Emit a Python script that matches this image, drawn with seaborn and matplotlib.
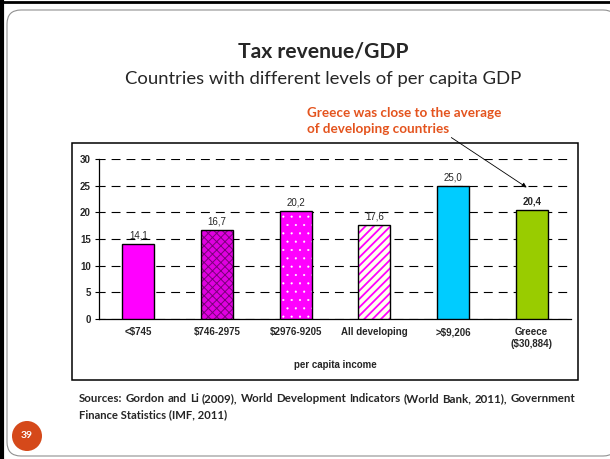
import matplotlib
matplotlib.use("Agg")
import matplotlib.pyplot as plt
import seaborn as sns
import pandas as pd
from matplotlib.patches import Rectangle, FancyBboxPatch, Circle
from matplotlib.ticker import FixedLocator

# datos del grafico
categorias = ["<$745", "$746-2975", "$2976-9205", "All developing", ">$9,206", "Greece\n($30,884)"]
valores = [14.1, 16.7, 20.2, 17.6, 25.0, 20.4]
etiquetas = ["14,1", "16,7", "20,2", "17,6", "25,0", "20,4"]
colores = ["#FF00FF", "#E000E0", "#FF00FF", "#FFFFF0", "#00CCFF", "#99CC00"]
tramas = [None, "xxxx", "..", "////", None, None]
color_trama = [None, "#7A007A", "#FFFFFF", "#FF00FF", None, None]
ancho_trama = [1.0, 0.7, 0.3, 1.3, 1.0, 1.0]

fuente_1 = "Sources: Gordon and Li (2009), World Development Indicators (World Bank, 2011), Government"
fuente_2 = "Finance Statistics (IMF, 2011)"

sns.set_style("white")
plt.rcParams["font.family"] = ["Liberation Sans", "DejaVu Sans"]
calibri = ["Lato", "DejaVu Sans"]

df = pd.DataFrame({"cat": categorias, "val": valores})

fig = plt.figure(figsize=(6.1, 4.59), dpi=100)

# fondo de la diapositiva en pixeles
bg = fig.add_axes([0, 0, 1, 1])
bg.set_xlim(0, 610)
bg.set_ylim(459, 0)
bg.axis("off")
bg.add_patch(FancyBboxPatch((7, 10), 610, 446, boxstyle="round,pad=0,rounding_size=14",
                            fc="white", ec="#909090", lw=0.8))
bg.plot([1.5, 1.5], [0, 459], color="black", lw=3)
bg.plot([0, 610], [1.5, 1.5], color="black", lw=2)
bg.add_patch(Rectangle((72, 143), 506, 237, fill=False, ec="black", lw=1.1))

bg.text(323, 52, "Tax revenue/GDP", ha="center", va="center", fontsize=15.2,
        fontweight="bold", family=calibri)
bg.text(323, 79, "Countries with different levels of per capita GDP", ha="center", va="center",
        fontsize=13.3, family=calibri)
bg.text(307, 121, "Greece was close to the average\nof developing countries", ha="left", va="center",
        fontsize=9.7, fontweight="bold", color="#E4541E", linespacing=1.35, family=calibri)

# primera linea justificada entre x=79 y x=575
fig.canvas.draw()
rend = fig.canvas.get_renderer()
palabras = fuente_1.split(" ")
objs = [bg.text(0, 399, w, ha="left", va="center", fontsize=8.3, fontweight="bold", family=calibri)
        for w in palabras]
anchos = [o.get_window_extent(rend).width for o in objs]
hueco = (575 - 79 - sum(anchos)) / (len(palabras) - 1)
x = 79
for o, a in zip(objs, anchos):
    o.set_x(x)
    x += a + hueco
bg.text(79, 415, fuente_2, ha="left", va="center", fontsize=8.1, fontweight="bold", family=calibri)

bg.add_patch(Circle((27, 436), 15, fc="#D5491A", ec="none"))
bg.text(27, 436, "39", ha="center", va="center", color="white", fontsize=7.5,
        fontweight="bold", family=calibri)

# grafico de barras
ax = fig.add_axes([99 / 610, (459 - 319) / 459, 472 / 610, 160 / 459])
sns.barplot(data=df, x="cat", y="val", hue="cat", palette=colores, legend=False,
            width=0.41, ax=ax, zorder=3, saturation=1)

for i, p in enumerate(ax.patches):
    if tramas[i]:
        p.set_hatch(tramas[i])
        p.set_edgecolor(color_trama[i])
        if hasattr(p, "set_hatch_linewidth"):
            p.set_hatch_linewidth(ancho_trama[i])
    p.set_linewidth(0)
    ax.add_patch(Rectangle(p.get_xy(), p.get_width(), p.get_height(), fill=False,
                           ec="black", lw=1.0, zorder=4))
    ax.annotate(etiquetas[i], (p.get_x() + p.get_width() / 2, p.get_height()),
                xytext=(0, 2.5), textcoords="offset points", ha="center", va="bottom",
                fontsize=7, fontweight="bold" if i == 5 else "normal", zorder=5)

ax.set_xlim(-0.5, 5.5)
ax.set_ylim(0, 30)
ax.set_yticks(range(0, 31, 5))
ax.yaxis.grid(True, color="black", linestyle=(2.5, (8, 5.4)), lw=0.8)
ax.set_axisbelow(True)
for s in ["top", "right"]:
    ax.spines[s].set_visible(False)
for s in ["left", "bottom"]:
    ax.spines[s].set_color("black")
    ax.spines[s].set_linewidth(0.9)

ax.xaxis.set_minor_locator(FixedLocator([k - 0.5 for k in range(7)]))
ax.tick_params(axis="x", which="major", length=0, pad=6)
ax.tick_params(axis="x", which="minor", length=3, direction="out", color="black", width=0.8)
ax.tick_params(axis="y", length=3, direction="out", color="black", width=0.8, pad=3, left=True)
ax.tick_params(labelsize=7)
for t in ax.get_xticklabels() + ax.get_yticklabels():
    t.set_fontweight("bold")
ax.set_xlabel("per capita income", fontsize=7, fontweight="bold", labelpad=8)
ax.set_ylabel("")

# flecha hacia Grecia (dibujada con el grafico para quedar encima)
ax.annotate("", xy=(529, 189), xytext=(449, 136), xycoords=bg.transData,
            textcoords=bg.transData, annotation_clip=False,
            arrowprops=dict(arrowstyle="-|>", color="black", lw=0.6, mutation_scale=7))

fig.savefig("out.png", dpi=100)
